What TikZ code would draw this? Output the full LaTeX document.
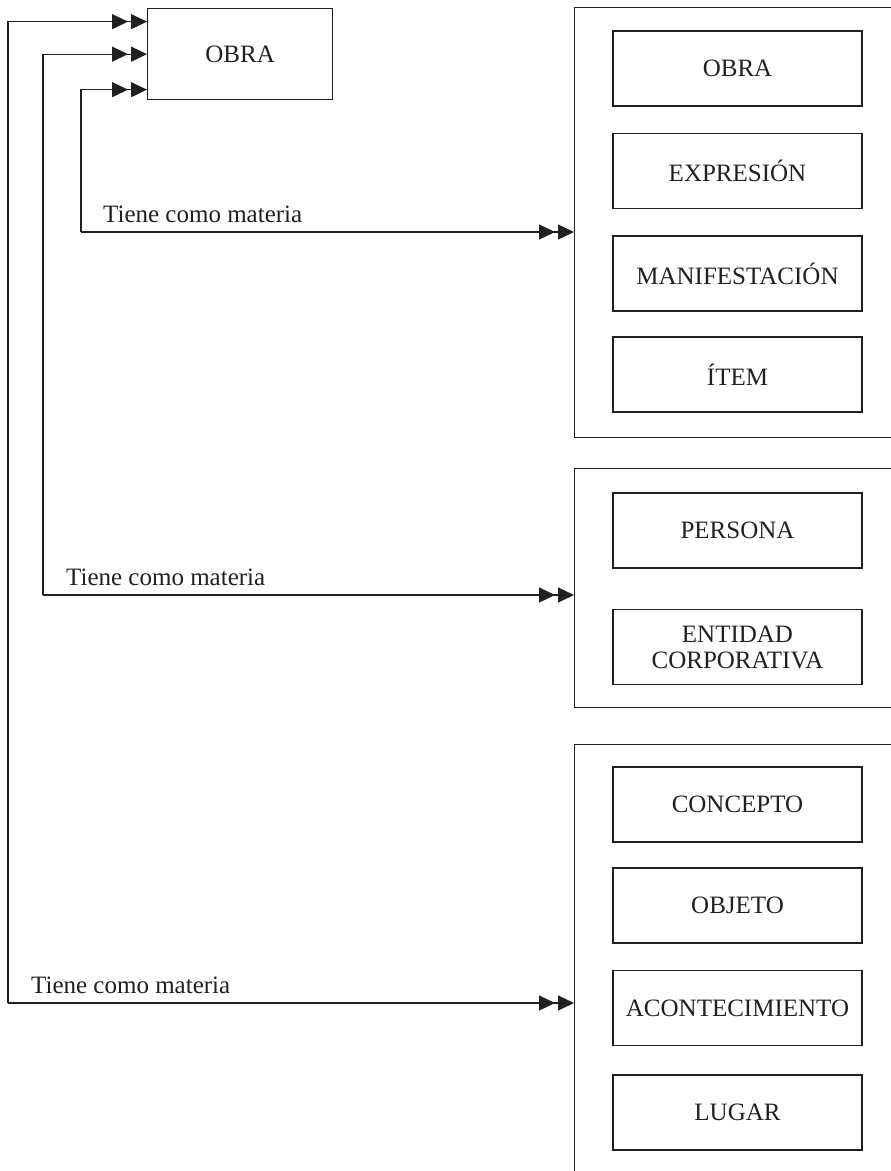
\documentclass[tikz,border=0pt]{standalone}
\usepackage{fontspec}
\setmainfont{Liberation Serif}
\usetikzlibrary{arrows.meta,calc}
\definecolor{ink}{HTML}{231F20}
\begin{document}
\begin{tikzpicture}[x=1pt,y=-1pt,
  every node/.style={font=\fontsize{25}{26}\selectfont, text=ink},
  ln/.style={draw=ink, line width=1.3pt},
  dbl/.style={ln, -{Triangle[length=16pt,width=15pt,sep=3pt]Triangle[length=16pt,width=15pt]}},
  ibox/.style={ln, rectangle, minimum width=249pt, minimum height=75pt, inner sep=0pt, align=center},
  cbox/.style={ln, rectangle, anchor=north west, inner sep=0pt, minimum width=360pt},
  lbl/.style={anchor=base west, inner sep=0pt}]
\useasboundingbox (0,0) rectangle (891,1171);
\clip (0,0) rectangle (891,1171);
% source box
\node[ln, rectangle, anchor=north west, minimum width=185pt, minimum height=91pt, inner sep=0pt] (obra) at (147,8) {OBRA};
% containers
\node[cbox, minimum height=430pt] (c1) at (574,7) {};
\node[cbox, minimum height=239pt] (c2) at (574,468) {};
\node[cbox, minimum height=480pt] (c3) at (574,744) {};
% inner boxes
\node[ibox] (b1) at (737.5,68.5) {OBRA};
\node[ibox] (b2) at (737.5,171) {EXPRESIÓN};
\node[ibox] (b3) at (737.5,273.5) {MANIFESTACIÓN};
\node[ibox] (b4) at (737.5,374.5) {ÍTEM};
\node[ibox] (b5) at (737.5,530.5) {PERSONA};
\node[ibox] (b6) at (737.5,647) {ENTIDAD\\CORPORATIVA};
\node[ibox] (b7) at (737.5,804.5) {CONCEPTO};
\node[ibox] (b8) at (737.5,905.5) {OBJETO};
\node[ibox] (b9) at (737.5,1008) {ACONTECIMIENTO};
\node[ibox] (b10) at (737.5,1112.5) {LUGAR};
% connector corners
\coordinate (s1) at (81,232);
\coordinate (s2) at (43,595);
\coordinate (s3) at (8,1003);
\draw[dbl] (s1) |- ([yshift=-35.5pt]obra.west);
\draw[dbl] (s2) |- (obra.west);
\draw[dbl] (s3) |- ([yshift=32.5pt]obra.west);
\draw[dbl] (s1) -- (c1.west |- s1);
\draw[dbl] (s2) -- (c2.west |- s2);
\draw[dbl] (s3) -- (c3.west |- s3);
% labels
\node[lbl] (l1) at (103,222) {Tiene como materia};
\node[lbl] (l2) at (66,585) {Tiene como materia};
\node[lbl] (l3) at (31,993) {Tiene como materia};
\end{tikzpicture}
\end{document}
